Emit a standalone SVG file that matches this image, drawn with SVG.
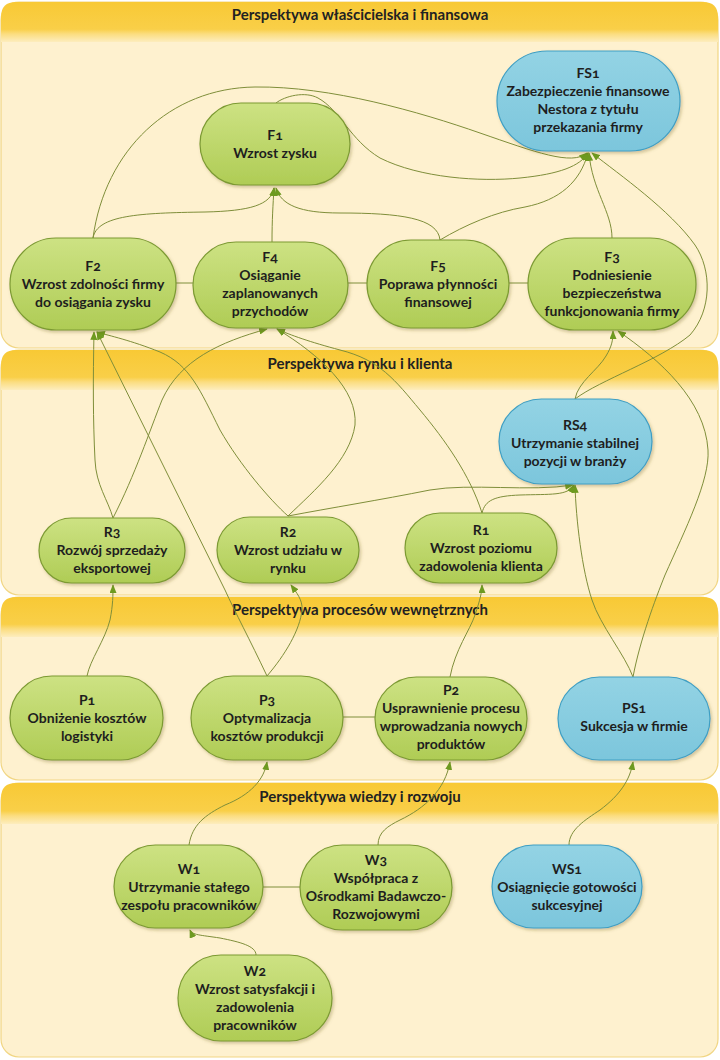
<svg xmlns="http://www.w3.org/2000/svg" width="720" height="1060" viewBox="0 0 720 1060">
<defs>
<linearGradient id="hdr" x1="0" y1="0" x2="0" y2="1">
<stop offset="0" stop-color="#F8C935"/>
<stop offset="0.68" stop-color="#F9CF48"/>
<stop offset="0.8" stop-color="#FBDD80"/>
<stop offset="1" stop-color="#FDEDBE"/>
</linearGradient>
<linearGradient id="gGreen" x1="0" y1="0" x2="0" y2="1">
<stop offset="0" stop-color="#CDE283"/>
<stop offset="1" stop-color="#AFCC55"/>
</linearGradient>
<linearGradient id="gBlue" x1="0" y1="0" x2="0" y2="1">
<stop offset="0" stop-color="#93D3E4"/>
<stop offset="1" stop-color="#7CC6DC"/>
</linearGradient>
<filter id="sh" x="-10%" y="-10%" width="125%" height="130%">
<feDropShadow dx="1.5" dy="2" stdDeviation="1.5" flood-color="#6a5a20" flood-opacity="0.3"/>
</filter>
<marker id="ar" viewBox="0 0 10 8" refX="9" refY="4" markerWidth="9" markerHeight="7" markerUnits="userSpaceOnUse" orient="auto">
<path d="M0,0 L10,4 L0,8 Z" fill="#6E9A20"/>
</marker>
<style>
.body{fill:#FEF1CF;stroke:#F1D684;stroke-width:1.2}
.hdr{fill:url(#hdr)}
.ht{font-family:Lato,"Liberation Sans",sans-serif;font-weight:bold;font-size:15px;fill:#222;text-anchor:middle}
.ng{fill:url(#gGreen);stroke:#7C9A33;stroke-width:1.2;filter:url(#sh)}
.nb{fill:url(#gBlue);stroke:#3E9FC4;stroke-width:1.2;filter:url(#sh)}
.nt{font-family:Lato,"Liberation Sans",sans-serif;font-weight:bold;font-size:14px;fill:#1E1E1E;text-anchor:middle;font-variant-numeric:oldstyle-nums}
.c{fill:none;stroke:#7F8E3A;stroke-width:1}
.a{marker-end:url(#ar)}
</style>
</defs>

<g id="lanes">
<g id="lane1">
<rect class="body" x="1" y="2" width="717" height="346" rx="18"/>
<path class="hdr" d="M1,42 L1,17 Q1,2 16,2 L703,2 Q718,2 718,17 L718,42 Z"/>
<text class="ht" x="360" y="20">Perspektywa właścicielska i finansowa</text>
</g>
<g id="lane2">
<rect class="body" x="1" y="350" width="717" height="245" rx="18"/>
<path class="hdr" d="M1,390 L1,365 Q1,350 16,350 L703,350 Q718,350 718,365 L718,390 Z"/>
<text class="ht" x="360" y="369">Perspektywa rynku i klienta</text>
</g>
<g id="lane3">
<rect class="body" x="1" y="597" width="717" height="183" rx="18"/>
<path class="hdr" d="M1,637 L1,612 Q1,597 16,597 L703,597 Q718,597 718,612 L718,637 Z"/>
<text class="ht" x="360" y="615">Perspektywa procesów wewnętrznych</text>
</g>
<g id="lane4">
<rect class="body" x="1" y="783" width="717" height="274" rx="18"/>
<path class="hdr" d="M1,824 L1,798 Q1,783 16,783 L703,783 Q718,783 718,798 L718,824 Z"/>
<text class="ht" x="360" y="802">Perspektywa wiedzy i rozwoju</text>
</g>
</g>

<g id="connectors">
<path class="c a" d="M93,238 C97,215 140,213 205,212 C250,211 271,205 274,188"/>
<path class="c a" d="M272,242 C272,220 273,205 274,188"/>
<path class="c a" d="M440,240 C438,218 400,213 340,213 C300,213 281,205 276,188"/>
<path class="c a" d="M440,240 C465,225 495,212 525,207 C560,200 580,182 588,153"/>
<path class="c a" d="M612,238 C612,212 592,190 589,153"/>
<path class="c a" d="M93,238 C105,150 170,88 255,87 C330,86 420,112 480,133 C535,152 572,166 587,153"/>
<path class="c a" d="M276,103 C285,96 305,91 318,98 C340,110 350,140 380,158 C420,178 480,182 520,178 C560,174 580,166 588,153"/>
<path class="c a" d="M575,399 C600,380 660,360 690,335 C712,310 712,270 695,245 C670,210 620,175 592,153"/>
<path class="c a" d="M575,399 C578,382 598,370 606,356 C612,346 613,340 613,331"/>
<path class="c a" d="M633,677 C640,640 655,600 665,575 C685,530 710,480 708,450 C705,400 660,360 618,331"/>
<path class="c a" d="M633,677 C625,655 600,625 592,600 C582,570 576,520 575,485"/>
<path class="c a" d="M113,518 C108,500 96,485 95,460 C93,420 93,380 94,332"/>
<path class="c a" d="M113,518 C135,475 150,430 162,400 C180,360 220,342 267,329"/>
<path class="c a" d="M288,516 C270,500 240,465 220,430 C200,390 190,365 160,352 C130,340 110,336 97,332"/>
<path class="c a" d="M267,676 C250,640 235,612 225,590 L97,332"/>
<path class="c a" d="M288,516 C315,490 350,460 355,425 C358,390 320,355 277,329"/>
<path class="c a" d="M288,516 C330,508 380,500 430,490 C470,483 530,492 573,485"/>
<path class="c a" d="M482,513 C485,500 495,496 520,495 C550,494 568,496 574,485"/>
<path class="c a" d="M482,513 C470,475 445,440 420,410 C395,380 380,360 340,350 C310,342 290,335 277,329"/>
<path class="c a" d="M87,676 C90,660 105,640 110,620 C113,605 113,595 113,585"/>
<path class="c a" d="M267,676 C285,655 300,630 302,610 C303,600 296,592 291,585"/>
<path class="c a" d="M450,677 C455,650 470,630 475,615 C480,600 482,592 482,585"/>
<path class="c a" d="M189,845 C192,825 205,815 225,805 C250,795 264,780 267,762"/>
<path class="c a" d="M378,845 C378,832 388,826 400,820 C425,808 445,790 450,762"/>
<path class="c a" d="M569,845 C569,830 585,820 600,810 C620,795 630,780 633,762"/>
<path class="c a" d="M256,955 C256,946 240,942 220,938 C200,935 192,935 190,930"/>
<path class="c" d="M176,283 L193,283"/>
<path class="c" d="M348,283 L367,283"/>
<path class="c" d="M509,283 L528,283"/>
<path class="c" d="M343,717 L375,717"/>
<path class="c" d="M263,887 L300,887"/>
</g>

<g id="F1"><rect class="ng" x="200" y="103" width="150" height="82" rx="41"/>
<text class="nt" x="275" y="140">F1</text><text class="nt" x="275" y="158">Wzrost zysku</text></g>
<g id="FS1"><rect class="nb" x="497" y="51" width="183" height="100" rx="50"/>
<text class="nt" x="588" y="78">FS1</text><text class="nt" x="588" y="96">Zabezpieczenie finansowe</text><text class="nt" x="588" y="114">Nestora z tytułu</text><text class="nt" x="588" y="132">przekazania firmy</text></g>
<g id="F2"><rect class="ng" x="10" y="238" width="166" height="92" rx="46"/>
<text class="nt" x="93" y="271">F2</text><text class="nt" x="93" y="289">Wzrost zdolności firmy</text><text class="nt" x="93" y="307">do osiągania zysku</text></g>
<g id="F4"><rect class="ng" x="193" y="242" width="155" height="86" rx="43"/>
<text class="nt" x="270" y="262">F4</text><text class="nt" x="270" y="280">Osiąganie</text><text class="nt" x="270" y="298">zaplanowanych</text><text class="nt" x="270" y="316">przychodów</text></g>
<g id="F5"><rect class="ng" x="367" y="240" width="142" height="88" rx="44"/>
<text class="nt" x="438" y="271">F5</text><text class="nt" x="438" y="289">Poprawa płynności</text><text class="nt" x="438" y="307">finansowej</text></g>
<g id="F3"><rect class="ng" x="528" y="238" width="168" height="92" rx="46"/>
<text class="nt" x="612" y="262">F3</text><text class="nt" x="612" y="280">Podniesienie</text><text class="nt" x="612" y="298">bezpieczeństwa</text><text class="nt" x="612" y="316">funkcjonowania firmy</text></g>
<g id="RS4"><rect class="nb" x="499" y="399" width="153" height="85" rx="42.5"/>
<text class="nt" x="575" y="430">RS4</text><text class="nt" x="575" y="448">Utrzymanie stabilnej</text><text class="nt" x="575" y="466">pozycji w branży</text></g>
<g id="R3"><rect class="ng" x="39" y="518" width="146" height="65" rx="32.5"/>
<text class="nt" x="112" y="537">R3</text><text class="nt" x="112" y="555">Rozwój sprzedaży</text><text class="nt" x="112" y="573">eksportowej</text></g>
<g id="R2"><rect class="ng" x="217" y="517" width="142" height="66" rx="33"/>
<text class="nt" x="288" y="537">R2</text><text class="nt" x="288" y="555">Wzrost udziału w</text><text class="nt" x="288" y="573">rynku</text></g>
<g id="R1"><rect class="ng" x="405" y="513" width="152" height="70" rx="35"/>
<text class="nt" x="481" y="535">R1</text><text class="nt" x="481" y="553">Wzrost poziomu</text><text class="nt" x="481" y="571">zadowolenia klienta</text></g>
<g id="P1"><rect class="ng" x="10" y="676" width="153" height="84" rx="42"/>
<text class="nt" x="87" y="705">P1</text><text class="nt" x="87" y="723">Obniżenie kosztów</text><text class="nt" x="87" y="741">logistyki</text></g>
<g id="P3"><rect class="ng" x="191" y="676" width="152" height="84" rx="42"/>
<text class="nt" x="267" y="705">P3</text><text class="nt" x="267" y="723">Optymalizacja</text><text class="nt" x="267" y="741">kosztów produkcji</text></g>
<g id="P2"><rect class="ng" x="375" y="677" width="152" height="83" rx="41.5"/>
<text class="nt" x="451" y="695">P2</text><text class="nt" x="451" y="713">Usprawnienie procesu</text><text class="nt" x="451" y="731">wprowadzania nowych</text><text class="nt" x="451" y="749">produktów</text></g>
<g id="PS1"><rect class="nb" x="558" y="677" width="152" height="83" rx="41.5"/>
<text class="nt" x="634" y="713">PS1</text><text class="nt" x="634" y="731">Sukcesja w firmie</text></g>
<g id="W1"><rect class="ng" x="114" y="845" width="149" height="83" rx="41.5"/>
<text class="nt" x="189" y="874">W1</text><text class="nt" x="189" y="892">Utrzymanie stałego</text><text class="nt" x="189" y="910">zespołu pracowników</text></g>
<g id="W3"><rect class="ng" x="300" y="845" width="152" height="85" rx="42.5"/>
<text class="nt" x="376" y="865">W3</text><text class="nt" x="376" y="883">Współpraca z</text><text class="nt" x="376" y="901">Ośrodkami Badawczo-</text><text class="nt" x="376" y="919">Rozwojowymi</text></g>
<g id="WS1"><rect class="nb" x="492" y="845" width="150" height="83" rx="41.5"/>
<text class="nt" x="567" y="874">WS1</text><text class="nt" x="567" y="892">Osiągnięcie gotowości</text><text class="nt" x="567" y="910">sukcesyjnej</text></g>
<g id="W2"><rect class="ng" x="178" y="955" width="154" height="86" rx="43"/>
<text class="nt" x="255" y="976">W2</text><text class="nt" x="255" y="994">Wzrost satysfakcji i</text><text class="nt" x="255" y="1012">zadowolenia</text><text class="nt" x="255" y="1030">pracowników</text></g>
</svg>
